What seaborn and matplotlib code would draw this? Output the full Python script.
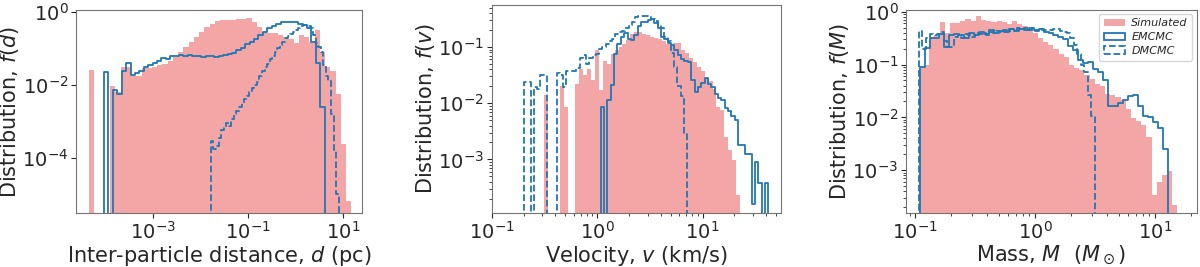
import numpy as np
import seaborn as sns
import matplotlib
matplotlib.use("Agg")
import matplotlib.pyplot as plt
from matplotlib.patches import Patch
from matplotlib.ticker import NullLocator

# Each series: 50 log-spaced bins between log10(lo) and log10(hi),
# values are log10 of the distribution (None = empty bin)

# --- inter-particle distance d (pc) ---
d_sim_range = (-4.354, 1.177)
d_sim = [-1.59, None, None, None, -2.03, -2.2, -1.5, -1.52, -1.77, -1.75,
         -1.55, -1.53, -1.5, -1.45, -1.43, -1.35, -1.23, -1.09, -0.95, -0.82,
         -0.68, -0.55, -0.41, -0.32, -0.26, -0.22, -0.21, -0.21, -0.20, -0.19,
         -0.18, -0.27, -0.41, -0.54, -0.58, -0.58, -0.62, -0.68, -0.74, -0.86,
         -0.64, -0.70, -0.82, -0.50, -1.09, -1.50, -1.63, -2.25, -3.63, -5.2]
d_em_range = (-4.038, 0.615)
d_em = [-1.66, None, -2.15, -2.24, -1.63, -1.41, -1.72, -1.68, -1.63, -1.50,
        -1.45, -1.41, -1.36, -1.27, -1.30, -1.20, -1.22, -1.18, -1.20, -1.17,
        -1.22, -1.21, -1.24, -1.22, -1.20, -1.24, -1.22, -1.18, -1.16, -1.13,
        -1.04, -0.98, -0.89, -0.82, -0.73, -0.64, -0.54, -0.45, -0.38, -0.34,
        -0.29, -0.28, -0.28, -0.29, -0.33, -0.36, -0.45, -0.82, -1.41, -2.62]
d_dm_range = (-1.785, 0.909)
d_dm = [-3.54, -3.77, -3.68, -3.45, -3.25, -3.2, -3.04, -3.12, -2.95, -2.8,
        -2.72, -2.6, -2.5, -2.38, -2.3, -2.2, -2.08, -2.0, -1.92, -1.75,
        -1.62, -1.52, -1.42, -1.3, -1.2, -1.1, -1.0, -0.9, -0.82, -0.72,
        -0.65, -0.6, -0.55, -0.5, -0.45, -0.4, -0.37, -0.36, -0.38, -0.45,
        -0.62, -0.85, -0.95, -1.09, -1.45, -1.75, -1.9, -2.8, -3.8, -5.0]

# --- velocity v (km/s) ---
v_sim_range = (-0.504, 1.354)
v_sim = [-1.85, None, None, None, -1.70, -2.07, None, None, -1.65, -1.40,
         -1.50, -1.40, -1.59, -1.06, -1.76, -1.24, -1.30, -1.13, -1.06, -1.0,
         -0.94, -0.88, -0.76, -0.74, -0.74, -0.77, -0.78, -0.82, -0.84, -0.86,
         -0.9, -0.94, -0.94, -0.93, -0.93, -1.05, -1.1, -1.2, -1.27, -1.36,
         -1.43, -1.55, -1.6, -1.75, -2.07, -2.12, -2.6, -2.84, -3.02, -3.64]
v_em_range = (0.033, 1.622)
v_em = [-2.07, None, -1.95, -1.68, -1.12, -0.94, -0.82, -0.75, -0.85, -0.88,
        -0.78, -0.62, -0.55, -0.55, -0.52, -0.5, -0.58, -0.67, -0.82, -0.85,
        -0.93, -0.97, -1.05, -1.15, -1.22, -1.24, -1.27, -1.59, -1.80, -1.72,
        -1.64, -1.55, -1.66, -1.72, -1.84, -1.90, -1.95, -2.08, -2.13, -2.22,
        -2.30, -2.75, -2.75, -2.91, -2.91, -3.79, -3.05, -3.42, None, -3.42]
v_dm_range = (-0.694, 0.854)
v_dm = [-1.62, -1.62, None, -1.72, -1.74, -1.5, -1.5, None, None, None,
        -1.46, -1.5, -1.72, -1.43, -1.43, -1.42, -1.38, -1.2, -1.15, -1.3,
        -1.2, -1.15, -1.12, -1.03, -1.0, -0.94, -0.9, -0.85, -0.76, -0.74,
        -0.72, -0.67, -0.6, -0.55, -0.47, -0.45, -0.44, -0.44, -0.47, -0.5,
        -0.53, -0.6, -0.66, -0.82, -0.9, -1.1, -1.35, -1.7, -1.88, -2.54]

# --- mass M (Msun) ---
m_sim_range = (-0.967, 1.189)
m_sim = [-1.04, -1.0, -0.47, -0.44, -0.19, -0.41, -0.22, -0.21, -0.17, -0.13,
         -0.17, -0.09, -0.15, -0.17, -0.2, -0.17, -0.2, -0.23, -0.17, -0.23,
         -0.28, -0.35, -0.41, -0.5, -0.58, -0.64, -0.7, -0.8, -0.86, -1.0,
         -1.06, -1.1, -1.2, -1.28, -1.36, -1.4, -1.55, -1.57, -1.61, -1.68,
         -1.85, -2.02, -2.07, -2.15, -2.37, -3.47, -3.22, -3.1, -3.01, -3.66]
m_em_range = (-0.961, 1.106)
m_em = [-1.04, -0.69, -0.5, -0.5, -0.42, -0.66, -0.45, -0.42, -0.45, -0.5,
        -0.4, -0.45, -0.38, -0.42, -0.35, -0.4, -0.36, -0.38, -0.33, -0.36,
        -0.32, -0.34, -0.3, -0.35, -0.32, -0.38, -0.4, -0.45, -0.48, -0.52,
        -0.65, -0.72, -0.92, -0.98, -0.96, -1.08, -1.14, -1.3, -1.78, -1.78,
        -1.72, -1.68, -1.6, -1.58, -1.78, -1.98, -2.0, -2.08, -2.21, -2.59]
m_dm_range = (-0.967, 0.5)
m_dm = [-0.37, -0.7, -0.5, -0.42, -0.45, -0.42, -0.38, -0.55, -0.66, -0.66,
        -0.48, -0.45, -0.5, -0.42, -0.44, -0.48, -0.4, -0.42, -0.4, -0.45,
        -0.38, -0.4, -0.36, -0.38, -0.35, -0.38, -0.32, -0.35, -0.3, -0.33,
        -0.31, -0.35, -0.3, -0.36, -0.32, -0.34, -0.35, -0.34, -0.33, -0.33,
        -0.36, -0.38, -0.41, -0.5, -0.63, -0.8, -1.0, -1.14, -1.58, -1.97]

labels = ["Simulated", "EMCMC", "DMCMC"]
pink = "lightcoral"
blue = "#1f77b4"

sns.set_style("ticks", {"axes.edgecolor": "0.45"})
plt.rcParams["font.family"] = ["DejaVu Sans"]


def hist(ax, rng, logf, **kw):
    # one empty bin on each side so the step outline drops to the bottom
    lo, hi = rng
    n = len(logf)
    w = (hi - lo) / n
    edges = np.linspace(lo - w, hi + w, n + 3)
    mids = 10 ** ((edges[:-1] + edges[1:]) / 2)
    f = [0.0] + [0.0 if v is None else 10 ** v for v in logf] + [0.0]
    # with log_scale the bin edges are given in log10 units
    sns.histplot(x=mids, weights=f, bins=edges.tolist(), log_scale=True, ax=ax, **kw)


bar_kw = dict(element="bars", color=pink, alpha=0.7, linewidth=0)
em_kw = dict(element="step", fill=False, color=blue, linewidth=1.3)
dm_kw = dict(element="step", fill=False, color=blue, linewidth=1.3, linestyle="--")

fig = plt.figure(figsize=(12, 2.67), dpi=100)
ax1 = fig.add_axes([0.0633, 0.2022, 0.2383, 0.760])
ax2 = fig.add_axes([0.4098, 0.2022, 0.2408, 0.7805])
ax3 = fig.add_axes([0.755, 0.2022, 0.2423, 0.762])

panels = [
    (ax1, d_sim_range, d_sim, d_em_range, d_em, d_dm_range, d_dm),
    (ax2, v_sim_range, v_sim, v_em_range, v_em, v_dm_range, v_dm),
    (ax3, m_sim_range, m_sim, m_em_range, m_em, m_dm_range, m_dm),
]
for ax, rs, s, re_, e, rd, d in panels:
    hist(ax, rs, s, **bar_kw)
    hist(ax, re_, e, **em_kw)
    hist(ax, rd, d, **dm_kw)
    ax.set_yscale("log")
    ax.tick_params(labelsize=14, pad=2)

lab = dict(fontsize=15, labelpad=1)

ax1.set_xlim(10 ** -4.63, 10 ** 1.40)
ax1.set_ylim(10 ** -5.52, 10 ** 0.05)
ax1.set_xticks([1e-3, 1e-1, 1e1])
ax1.set_yticks([1e0, 1e-2, 1e-4])
ax1.xaxis.set_minor_locator(NullLocator())
ax1.yaxis.set_minor_locator(NullLocator())
ax1.set_xlabel("Inter-particle distance, $d$ (pc)", **lab)
ax1.set_ylabel("Distribution, $f(d)$", **lab)

ax2.set_xlim(10 ** -1.0, 10 ** 1.74)
ax2.set_ylim(10 ** -3.955, 10 ** -0.245)
ax2.set_xticks([1e-1, 1e0, 1e1])
ax2.set_yticks([1e-1, 1e-2, 1e-3])
ax2.set_xlabel("Velocity, $v$ (km/s)", **lab)
ax2.set_ylabel("Distribution, $f(v)$", **lab)

ax3.set_xlim(10 ** -1.075, 10 ** 1.35)
ax3.set_ylim(10 ** -3.81, 10 ** 0.04)
ax3.set_xticks([1e-1, 1e0, 1e1])
ax3.set_yticks([1e0, 1e-1, 1e-2, 1e-3])
ax3.set_xlabel("Mass, $M$  $(M_\\odot)$", **lab)
ax3.set_ylabel("Distribution, $f(M)$", **lab)

handles = [
    Patch(facecolor=pink, alpha=0.7, edgecolor="none"),
    Patch(fill=False, edgecolor=blue, linewidth=1.3),
    Patch(fill=False, edgecolor=blue, linewidth=1.3, linestyle="--"),
]
ax3.legend(handles, labels, loc="upper right", prop={"style": "italic", "size": 8},
           borderaxespad=0.4, handlelength=1.9, labelspacing=0.35, handletextpad=0.6)

fig.savefig("out.png", dpi=100)
